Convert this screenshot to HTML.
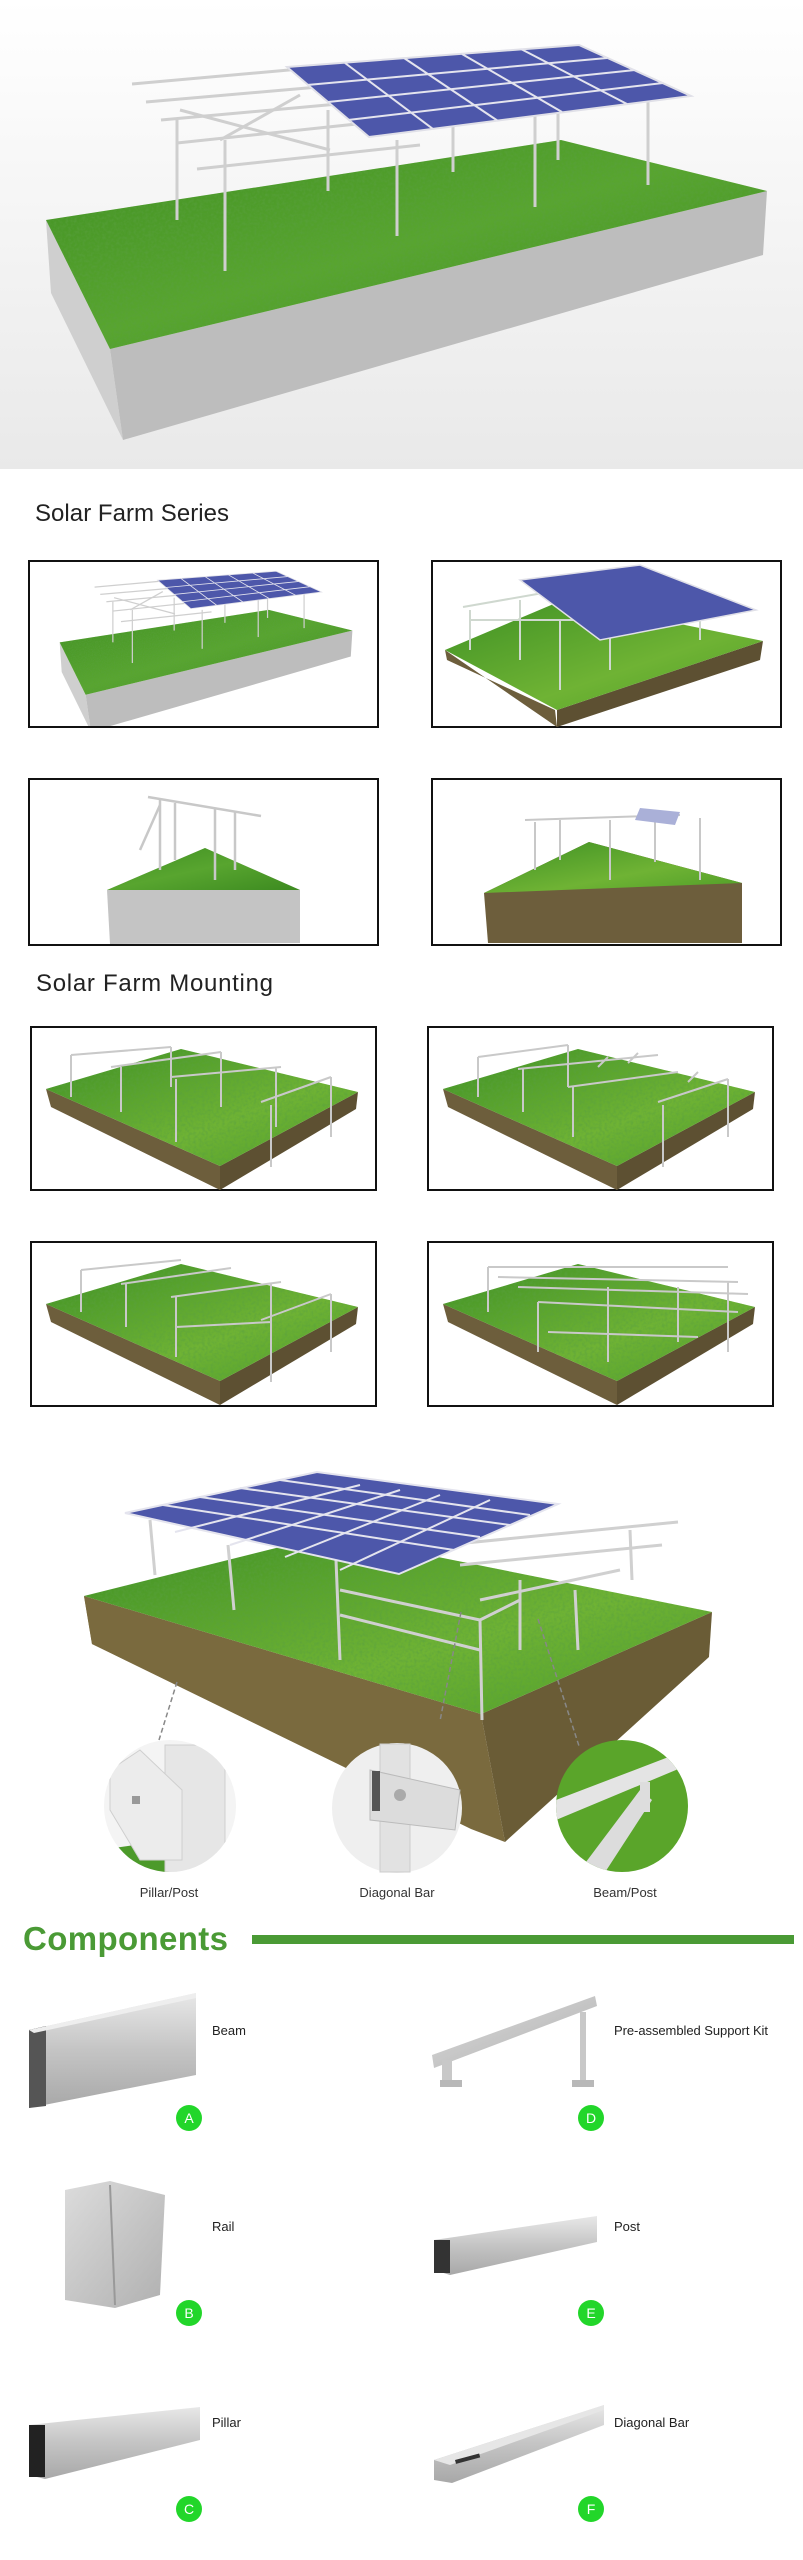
<!DOCTYPE html>
<html><head><meta charset="utf-8"><style>
html,body{margin:0;padding:0;background:#fff;}
svg{display:block;}
text{font-family:"Liberation Sans",sans-serif;}
</style></head><body>
<svg width="803" height="2560" viewBox="0 0 803 2560" xmlns="http://www.w3.org/2000/svg">
<defs>
<linearGradient id="bg" x1="0" y1="0" x2="0" y2="1"><stop offset="0" stop-color="#ffffff"/><stop offset="1" stop-color="#e9e9e9"/></linearGradient>
<linearGradient id="grass" x1="0" y1="0" x2="1" y2="1"><stop offset="0" stop-color="#3f8f22"/><stop offset=".5" stop-color="#58a52f"/><stop offset="1" stop-color="#3c8a20"/></linearGradient>
<linearGradient id="grass2" x1="0" y1="0" x2="1" y2="1"><stop offset="0" stop-color="#3e9024"/><stop offset=".6" stop-color="#6fb334"/><stop offset="1" stop-color="#4e9d28"/></linearGradient>
<linearGradient id="metal" x1="0" y1="0" x2="0" y2="1"><stop offset="0" stop-color="#e8e8e8"/><stop offset=".5" stop-color="#c4c4c4"/><stop offset="1" stop-color="#a8a8a8"/></linearGradient>
<linearGradient id="metal2" x1="0" y1="0" x2="1" y2="1"><stop offset="0" stop-color="#dcdcdc"/><stop offset="1" stop-color="#b0b0b0"/></linearGradient>
<filter id="tex" x="0" y="0" width="100%" height="100%"><feTurbulence type="fractalNoise" baseFrequency="0.35" numOctaves="2" result="n"/><feColorMatrix in="n" type="matrix" values="0 0 0 0 0.1  0 0 0 0 0.35  0 0 0 0 0.05  0 0 0 1.2 -0.45"/><feComposite in2="SourceGraphic" operator="in"/></filter>
<g id="hero">
  <polygon points="51,293 123,440 110,349 46,220" fill="#cfcfcf"/>
  <polygon points="110,349 767,191 763,255 123,440" fill="#bdbdbd"/>
  <polygon points="46,220 561,140 767,191 110,349" fill="url(#grass)"/>
  <polygon points="46,220 561,140 767,191 110,349" fill="#000" filter="url(#tex)"/>
  <g stroke="#cfcfcf" stroke-width="3" fill="none">
    <line x1="177" y1="120" x2="177" y2="220"/><line x1="225" y1="140" x2="225" y2="271"/>
    <line x1="328" y1="110" x2="328" y2="191"/><line x1="397" y1="140" x2="397" y2="236"/>
    <line x1="453" y1="120" x2="453" y2="172"/><line x1="535" y1="110" x2="535" y2="207"/>
    <line x1="558" y1="100" x2="558" y2="160"/><line x1="648" y1="80" x2="648" y2="185"/>
    <line x1="132" y1="84" x2="300" y2="69"/><line x1="146" y1="102" x2="330" y2="86"/>
    <line x1="161" y1="120" x2="360" y2="102"/><line x1="177" y1="143" x2="385" y2="121"/>
    <line x1="197" y1="169" x2="420" y2="145"/><line x1="180" y1="110" x2="330" y2="150"/>
    <line x1="220" y1="140" x2="300" y2="95"/>
  </g>
  <polygon points="287,67 579,45 691,96 369,137" fill="#4d57aa" stroke="#e0e0e8" stroke-width="2"/>
  <g stroke="#e4e4ee" stroke-width="2">
    <line x1="345" y1="63" x2="433" y2="129"/><line x1="404" y1="58" x2="498" y2="121"/>
    <line x1="462" y1="54" x2="562" y2="112"/><line x1="521" y1="49" x2="627" y2="104"/>
    <line x1="307" y1="85" x2="607" y2="58"/><line x1="328" y1="102" x2="635" y2="70"/>
    <line x1="348" y1="120" x2="663" y2="83"/>
  </g>
</g>
<g id="blk">
  <polygon points="15,62 189,139 189,163 20,80" fill="#6d5e3c"/>
  <polygon points="189,139 327,65 325,82 189,163" fill="#5d5032"/>
  <polygon points="15,62 150,22 327,65 189,139" fill="url(#grass2)"/>
  <polygon points="15,62 150,22 327,65 189,139" fill="#000" filter="url(#tex)"/>
</g>
<clipPath id="c1"><rect x="30" y="562" width="347" height="164"/></clipPath>
<clipPath id="cc1"><circle cx="170" cy="1806" r="66"/></clipPath>
<clipPath id="cc3"><circle cx="622" cy="1806" r="66"/></clipPath>
</defs>

<!-- hero -->
<rect x="0" y="0" width="803" height="469" fill="url(#bg)"/>
<use href="#hero"/>

<text x="35" y="521" font-size="24" textLength="194" fill="#222">Solar Farm Series</text>

<!-- row 1 -->
<rect x="29" y="561" width="349" height="166" fill="#fff" stroke="#111" stroke-width="2"/>
<g clip-path="url(#c1)"><use href="#hero" transform="translate(41,553) scale(0.406)"/></g>
<rect x="432" y="561" width="349" height="166" fill="#fff" stroke="#111" stroke-width="2"/>
<g>
  <polygon points="445,650 557,727 555,710 447,660" fill="#6d5e3c"/>
  <polygon points="557,710 763,641 760,660 557,727" fill="#5d5032"/>
  <polygon points="445,650 563,600 763,641 557,710" fill="url(#grass2)"/>
  <g stroke="#cfd8cf" stroke-width="2"><line x1="470" y1="610" x2="470" y2="650"/><line x1="520" y1="600" x2="520" y2="660"/><line x1="560" y1="620" x2="560" y2="690"/><line x1="610" y1="610" x2="610" y2="670"/><line x1="700" y1="590" x2="700" y2="640"/><line x1="463" y1="607" x2="560" y2="590"/><line x1="470" y1="620" x2="600" y2="620"/></g>
  <polygon points="520,580 640,565 756,610 600,640" fill="#4d57aa" stroke="#e0e0e8" stroke-width="1.5"/>
</g>

<!-- row 2 -->
<rect x="29" y="779" width="349" height="166" fill="#fff" stroke="#111" stroke-width="2"/>
<polygon points="107,890 205,848 300,890 300,943 110,944" fill="#c4c4c4"/>
<polygon points="107,890 205,848 300,890" fill="url(#grass)"/>
<g stroke="#c8c8c8" stroke-width="2.5"><line x1="148" y1="797" x2="261" y2="816"/><line x1="160" y1="800" x2="160" y2="870"/><line x1="175" y1="803" x2="175" y2="860"/><line x1="215" y1="808" x2="215" y2="880"/><line x1="235" y1="812" x2="235" y2="870"/><line x1="160" y1="805" x2="140" y2="850"/></g>
<rect x="432" y="779" width="349" height="166" fill="#fff" stroke="#111" stroke-width="2"/>
<polygon points="484,893 589,842 742,883 742,943 488,943" fill="#6d5e3c"/>
<polygon points="484,893 589,842 742,883" fill="url(#grass2)"/>
<g stroke="#c8c8c8" stroke-width="2"><line x1="525" y1="820" x2="680" y2="815"/><line x1="535" y1="822" x2="535" y2="870"/><line x1="560" y1="820" x2="560" y2="860"/><line x1="610" y1="820" x2="610" y2="880"/><line x1="655" y1="818" x2="655" y2="862"/><line x1="700" y1="818" x2="700" y2="880"/></g>
<polygon points="640,808 680,812 675,825 635,820" fill="#aab0d8"/>

<text x="36" y="991" font-size="24" textLength="237" fill="#222">Solar Farm Mounting</text>

<!-- rows 3-4 -->
<g transform="translate(31,1027)"><rect x="0" y="0" width="345" height="163" fill="#fff" stroke="#111" stroke-width="2"/><use href="#blk"/>
<g stroke="#c9c9c9" stroke-width="2" fill="none"><path d="M40 28 L140 20 M40 28 V70 M140 20 V60 M80 40 L190 25 M90 40 V85 M190 25 V80 M140 50 L250 40 M145 52 V115 M245 40 V100 M230 75 L300 50 M240 78 V140 M300 50 V110"/></g></g>
<g transform="translate(428,1027)"><rect x="0" y="0" width="345" height="163" fill="#fff" stroke="#111" stroke-width="2"/><use href="#blk"/>
<g stroke="#c9c9c9" stroke-width="2" fill="none"><path d="M50 30 L140 18 M50 30 V70 M140 18 V60 M90 42 L230 28 M95 42 V85 M140 60 L250 45 M145 60 V110 M230 75 L300 52 M235 78 V140 M300 52 V110 M170 40 L180 30 M200 36 L210 26 M260 55 L270 45"/></g></g>
<g transform="translate(31,1242)"><rect x="0" y="0" width="345" height="164" fill="#fff" stroke="#111" stroke-width="2"/><use href="#blk"/>
<g stroke="#c9c9c9" stroke-width="2" fill="none"><path d="M50 28 L150 18 M50 28 V70 M90 42 L200 26 M95 42 V85 M140 55 L250 40 M145 55 V115 M240 42 V100 M145 85 L240 80 M230 78 L300 52 M240 78 V140 M300 52 V110"/></g></g>
<g transform="translate(428,1242)"><rect x="0" y="0" width="345" height="164" fill="#fff" stroke="#111" stroke-width="2"/><use href="#blk"/>
<g stroke="#c9c9c9" stroke-width="2" fill="none"><path d="M60 25 L300 25 M70 35 L310 40 M90 45 L320 52 M110 60 L310 70 M60 25 V70 M110 60 V110 M180 45 V120 M250 45 V100 M300 40 V110 M120 90 L270 95"/></g></g>

<!-- big diagram -->
<polygon points="84,1596 505,1842 471,1829 92,1644" fill="#7a6a3e"/>
<polygon points="84,1596 481,1714 505,1842 92,1644" fill="#7a6a3e"/>
<polygon points="481,1714 712,1612 709,1657 505,1842" fill="#6a5c36"/>
<polygon points="84,1596 328,1535 712,1612 481,1714" fill="url(#grass2)"/>
<polygon points="84,1596 328,1535 712,1612 481,1714" fill="#000" filter="url(#tex)"/>
<g stroke="#d0d0d0" stroke-width="3" fill="none">
  <line x1="150" y1="1520" x2="155" y2="1575"/><line x1="228" y1="1545" x2="234" y2="1610"/>
  <line x1="336" y1="1560" x2="340" y2="1660"/><line x1="480" y1="1620" x2="482" y2="1720"/>
  <line x1="520" y1="1580" x2="520" y2="1650"/><line x1="575" y1="1590" x2="578" y2="1650"/>
  <line x1="630" y1="1530" x2="632" y2="1580"/><line x1="445" y1="1545" x2="678" y2="1522"/>
  <line x1="460" y1="1565" x2="662" y2="1545"/><line x1="480" y1="1600" x2="620" y2="1570"/>
  <line x1="340" y1="1590" x2="480" y2="1620"/><line x1="480" y1="1620" x2="520" y2="1600"/>
  <line x1="340" y1="1615" x2="480" y2="1650"/>
</g>
<polygon points="125,1513 317,1472 558,1504 399,1574" fill="#4d57aa" stroke="#e4e4ee" stroke-width="2"/>
<g stroke="#e4e4ee" stroke-width="2">
  <line x1="163" y1="1505" x2="454" y2="1550"/><line x1="200" y1="1497" x2="480" y2="1537"/>
  <line x1="240" y1="1488" x2="510" y2="1525"/><line x1="280" y1="1480" x2="530" y2="1515"/>
  <line x1="175" y1="1532" x2="360" y2="1485"/><line x1="230" y1="1545" x2="400" y2="1490"/>
  <line x1="285" y1="1557" x2="440" y2="1495"/><line x1="340" y1="1570" x2="490" y2="1500"/>
</g>
<g stroke="#888" stroke-width="1.5" stroke-dasharray="5,3">
  <line x1="177" y1="1682" x2="159" y2="1740"/><line x1="461" y1="1612" x2="440" y2="1721"/><line x1="538" y1="1619" x2="579" y2="1746"/>
</g>
<!-- circles -->
<g clip-path="url(#cc1)"><rect x="100" y="1736" width="140" height="140" fill="#f4f4f4"/>
  <polygon points="100,1850 170,1840 170,1880 100,1880" fill="#4c9a2a"/>
  <rect x="165" y="1745" width="60" height="140" fill="#e6e6e6" stroke="#cfcfcf"/>
  <polygon points="110,1770 140,1750 182,1790 182,1860 140,1860 110,1810" fill="#ececec" stroke="#cfcfcf"/>
  <rect x="132" y="1796" width="8" height="8" fill="#999"/></g>
<g><circle cx="397" cy="1808" r="65" fill="#efefef"/>
  <rect x="380" y="1744" width="30" height="128" fill="#e2e2e2" stroke="#ccc"/>
  <polygon points="370,1770 460,1790 455,1830 370,1820" fill="#dcdcdc" stroke="#bbb"/>
  <rect x="372" y="1771" width="8" height="40" fill="#555"/>
  <circle cx="400" cy="1795" r="6" fill="#aaa"/></g>
<g clip-path="url(#cc3)"><rect x="550" y="1736" width="150" height="140" fill="#5aa52a"/>
  <polygon points="556,1800 700,1745 700,1760 556,1820" fill="#e4e4e4"/>
  <polygon points="580,1870 640,1790 652,1800 600,1880" fill="#dcdcdc"/>
  <rect x="640" y="1782" width="10" height="30" fill="#ddd"/></g>
<text x="169" y="1897" font-size="13" text-anchor="middle" fill="#333">Pillar/Post</text>
<text x="397" y="1897" font-size="13" text-anchor="middle" fill="#333">Diagonal Bar</text>
<text x="625" y="1897" font-size="13" text-anchor="middle" fill="#333">Beam/Post</text>

<!-- components -->
<text x="23" y="1950" font-size="33" font-weight="bold" textLength="205" fill="#4a9a35">Components</text>
<rect x="252" y="1935" width="542" height="9" fill="#4a9a35"/>

<!-- A Beam -->
<polygon points="29,2030 196,1993 196,2075 29,2108" fill="url(#metal)"/>
<polygon points="29,2030 46,2026 46,2106 29,2108" fill="#555"/>
<polygon points="29,2030 196,1993 196,1998 34,2033" fill="#eee"/>
<text x="212" y="2035" font-size="13" fill="#222">Beam</text>
<circle cx="189" cy="2118" r="13" fill="#22d62a"/><text x="189" y="2123" font-size="14" fill="#fff" text-anchor="middle">A</text>
<!-- D kit -->
<polygon points="432,2055 595,1996 597,2006 434,2068" fill="url(#metal2)"/>
<rect x="580" y="2012" width="6" height="70" fill="#c8c8c8"/>
<rect x="572" y="2080" width="22" height="7" fill="#b8b8b8"/>
<rect x="442" y="2060" width="10" height="22" fill="#c8c8c8"/>
<rect x="440" y="2080" width="22" height="7" fill="#b8b8b8"/>
<text x="614" y="2035" font-size="13" textLength="154" fill="#222">Pre-assembled Support Kit</text>
<circle cx="591" cy="2118" r="13" fill="#22d62a"/><text x="591" y="2123" font-size="14" fill="#fff" text-anchor="middle">D</text>
<!-- B Rail -->
<polygon points="65,2190 110,2181 165,2195 160,2295 115,2308 65,2300" fill="url(#metal2)"/>
<line x1="110" y1="2185" x2="115" y2="2305" stroke="#999" stroke-width="2"/>
<text x="212" y="2231" font-size="13" fill="#222">Rail</text>
<circle cx="189" cy="2313" r="13" fill="#22d62a"/><text x="189" y="2318" font-size="14" fill="#fff" text-anchor="middle">B</text>
<!-- E Post -->
<polygon points="434,2240 597,2216 597,2242 450,2275 434,2270" fill="url(#metal)"/>
<rect x="434" y="2240" width="16" height="33" fill="#333"/>
<text x="614" y="2231" font-size="13" fill="#222">Post</text>
<circle cx="591" cy="2313" r="13" fill="#22d62a"/><text x="591" y="2318" font-size="14" fill="#fff" text-anchor="middle">E</text>
<!-- C Pillar -->
<polygon points="29,2425 200,2407 200,2440 45,2479 29,2475" fill="url(#metal)"/>
<rect x="29" y="2425" width="16" height="52" fill="#222"/>
<text x="212" y="2427" font-size="13" fill="#222">Pillar</text>
<circle cx="189" cy="2509" r="13" fill="#22d62a"/><text x="189" y="2514" font-size="14" fill="#fff" text-anchor="middle">C</text>
<!-- F Diagonal -->
<polygon points="434,2460 604,2405 604,2425 452,2483 434,2480" fill="url(#metal)"/>
<polygon points="434,2460 604,2405 604,2410 450,2465" fill="#e6e6e6"/>
<rect x="455" y="2460" width="25" height="4" fill="#333" transform="rotate(-15 455 2460)"/>
<text x="614" y="2427" font-size="13" fill="#222">Diagonal Bar</text>
<circle cx="591" cy="2509" r="13" fill="#22d62a"/><text x="591" y="2514" font-size="14" fill="#fff" text-anchor="middle">F</text>
</svg>
</body></html>
